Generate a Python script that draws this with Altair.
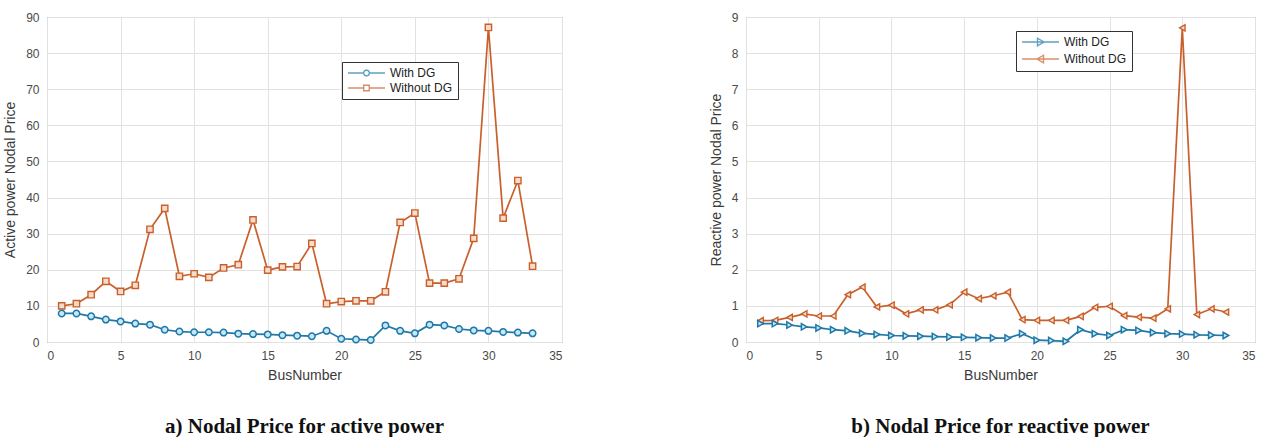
import altair as alt
import pandas as pd

bus = list(range(1, 34))
series_names = ["With DG", "Without DG"]

active_with = [7.9, 7.9, 7.1, 6.2, 5.7, 5.1, 4.8, 3.4, 2.9, 2.7,
               2.7, 2.6, 2.3, 2.2, 2.1, 1.9, 1.75, 1.6, 3.1, 0.9,
               0.7, 0.55, 4.6, 3.1, 2.4, 4.8, 4.6, 3.6, 3.2, 3.1,
               2.8, 2.6, 2.4]
active_without = [10.0, 10.6, 13.1, 16.8, 14.0, 15.7, 31.2, 37.0, 18.2, 18.9,
                  17.9, 20.5, 21.4, 33.8, 19.9, 20.8, 20.9, 27.3, 10.6, 11.2,
                  11.4, 11.4, 13.9, 33.1, 35.7, 16.3, 16.3, 17.5, 28.7, 87.1,
                  34.3, 44.7, 21.0]
reactive_with = [0.51, 0.51, 0.47, 0.42, 0.39, 0.34, 0.31, 0.24, 0.21, 0.18,
                 0.17, 0.16, 0.15, 0.14, 0.13, 0.12, 0.11, 0.11, 0.23, 0.05,
                 0.04, 0.02, 0.34, 0.23, 0.18, 0.34, 0.32, 0.26, 0.23, 0.22,
                 0.20, 0.19, 0.18]
reactive_without = [0.59, 0.60, 0.68, 0.78, 0.72, 0.72, 1.31, 1.52, 0.97, 1.02,
                    0.78, 0.89, 0.89, 1.03, 1.38, 1.20, 1.28, 1.38, 0.62, 0.60,
                    0.60, 0.60, 0.71, 0.96, 0.99, 0.73, 0.69, 0.66, 0.92, 8.70,
                    0.76, 0.92, 0.83]

x_ticks = [0, 5, 10, 15, 20, 25, 30, 35]
active_ticks = [0, 10, 20, 30, 40, 50, 60, 70, 80, 90]
reactive_ticks = [0, 1, 2, 3, 4, 5, 6, 7, 8, 9]

BLUE = "#1f78a8"
BLUE_FILL = "#c6e8f6"
ORANGE = "#c9602c"
ORANGE_FILL = "#f8dccb"

# legend glyphs: a short line with its marker. Symbol size 100 -> 5 px per unit;
# the glyph starts at the symbol's left edge (-1) and runs 37 px to the right.
LEG_CIRCLE = ("M-1,0L2.1,0M3.3,0L6.4,0"
              "M3.3,0L3.12,0.42L2.7,0.6L2.28,0.42L2.1,0L2.28,-0.42L2.7,-0.6L3.12,-0.42Z")
LEG_SQUARE = "M-1,0L2.15,0M3.25,0L6.4,0M2.15,-0.55L3.25,-0.55L3.25,0.55L2.15,0.55Z"
LEG_TRI_R = "M-1,0L6.4,0M2.1,-0.75L3.4,0L2.1,0.75Z"
LEG_TRI_L = "M-1,0L6.4,0M3.3,-0.75L2.0,0L3.3,0.75Z"


def panel(with_vals, without_vals, ymax, yticks, ytitle, caption,
          shape_with, shape_without, leg_shapes, leg_x, leg_y, width):
    df = pd.DataFrame({
        "Bus": bus * 2,
        "Price": with_vals + without_vals,
        "Series": [series_names[0]] * len(bus) + [series_names[1]] * len(bus),
    })
    x = alt.X("Bus:Q", scale=alt.Scale(domain=[0, 35], nice=False),
              axis=alt.Axis(values=x_ticks, title="BusNumber"))
    y = alt.Y("Price:Q", scale=alt.Scale(domain=[0, ymax], nice=False),
              axis=alt.Axis(values=yticks, title=ytitle))
    color_scale = alt.Scale(domain=series_names, range=[BLUE, ORANGE])
    leg = alt.Legend(title=None, orient="none", legendX=leg_x, legendY=leg_y)

    lines = alt.Chart(df).mark_line(strokeWidth=1.7).encode(
        x=x, y=y,
        color=alt.Color("Series:N", scale=color_scale, legend=leg),
        detail="Series:N",
    )
    pts_without = alt.Chart(df).transform_filter(
        alt.datum.Series == series_names[1]
    ).mark_point(shape=shape_without, size=40, filled=True, fill=ORANGE_FILL,
                 stroke=ORANGE, strokeWidth=1.4, opacity=1).encode(x=x, y=y)
    pts_with = alt.Chart(df).transform_filter(
        alt.datum.Series == series_names[0]
    ).mark_point(shape=shape_with, size=42, filled=True, fill=BLUE_FILL,
                 stroke=BLUE, strokeWidth=1.5, opacity=1).encode(x=x, y=y)
    legend_layer = alt.Chart(df).transform_filter("false").mark_point(
        filled=False, strokeWidth=1.4, size=100
    ).encode(
        color=alt.Color("Series:N", scale=color_scale, legend=leg),
        shape=alt.Shape("Series:N", scale=alt.Scale(domain=series_names, range=leg_shapes),
                        legend=leg),
    )
    return alt.layer(lines, pts_without, pts_with, legend_layer).properties(
        width=width, height=325,
        title=alt.TitleParams(text=caption, orient="bottom", anchor="middle",
                              frame="group", font="Liberation Serif", fontSize=21,
                              fontWeight="bold", color="#111111", offset=34),
    )


left = panel(active_with, active_without, 90, active_ticks,
             "Active power Nodal Price", "a) Nodal Price for active power",
             "circle", "square", [LEG_CIRCLE, LEG_SQUARE], 295, 45, 515)
right = panel(reactive_with, reactive_without, 9, reactive_ticks,
              "Reactive power Nodal Price", "b) Nodal Price for reactive power",
              "triangle-right", "triangle-left", [LEG_TRI_R, LEG_TRI_L], 270, 14, 509)

chart = alt.hconcat(left, right, spacing=145).resolve_scale(
    color="independent", shape="independent"
).resolve_legend(
    color="independent", shape="independent"
).properties(
    padding={"left": 3, "top": 10, "right": 0, "bottom": 0},
    background="white",
).configure_view(
    stroke="#7a7a7a", strokeWidth=1
).configure_axis(
    domain=False, grid=True, gridColor="#e2e2e2", gridWidth=1,
    tickSize=0, labelPadding=8,
    labelFont="Liberation Sans", labelFontSize=12, labelColor="#4a4a4a",
    titleFont="Liberation Sans", titleFontSize=14, titleFontWeight="normal",
    titleColor="#3a3a3a",
).configure_axisX(
    titlePadding=7,
).configure_axisY(
    titlePadding=8,
).configure_legend(
    labelFont="Liberation Sans", labelFontSize=12, labelColor="#222222",
    strokeColor="#333333", fillColor="white", padding=5,
    symbolSize=100, symbolStrokeWidth=1.4, symbolFillColor="transparent",
    rowPadding=3, labelOffset=31, symbolOffset=0,
)

chart.save("out.html", embed_options={"renderer": "svg", "actions": False})
